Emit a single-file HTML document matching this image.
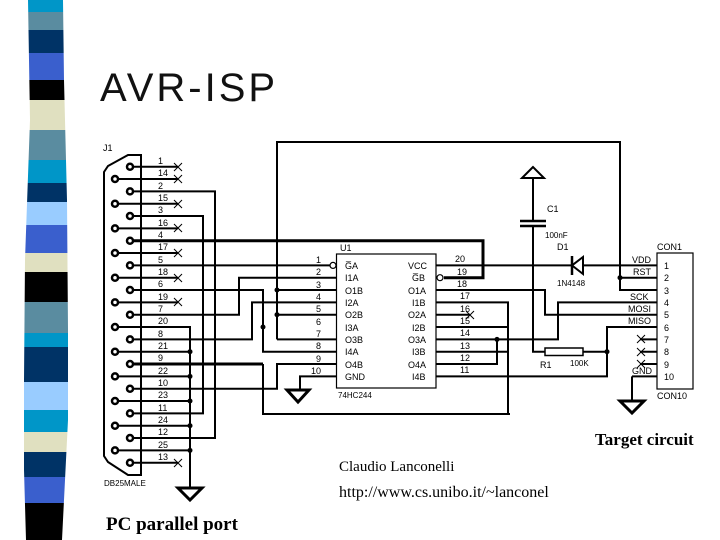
<!DOCTYPE html>
<html><head><style>
html,body{margin:0;padding:0;background:#fff;}
svg{display:block;}
text{font-family:"Liberation Sans",sans-serif;}
.s{font-family:"Liberation Serif",serif;}
</style></head><body>
<svg width="720" height="540" viewBox="0 0 720 540" xmlns="http://www.w3.org/2000/svg">
<defs><clipPath id="bar"><path d="M28,0 L63,0 L64,80 L67,200 L68,330 L68,420 L65,480 L62,540 L26,540 L24,470 L24,380 L25,260 L30,120 Z"/></clipPath></defs>
<g clip-path="url(#bar)">
<rect x="0" y="0" width="100" height="12" fill="#0096c8"/>
<rect x="0" y="12" width="100" height="18" fill="#5a8ca0"/>
<rect x="0" y="30" width="100" height="23" fill="#003366"/>
<rect x="0" y="53" width="100" height="27" fill="#3a5fcd"/>
<rect x="0" y="80" width="100" height="20" fill="#000"/>
<rect x="0" y="100" width="100" height="30" fill="#e0e0c0"/>
<rect x="0" y="130" width="100" height="30" fill="#5a8ca0"/>
<rect x="0" y="160" width="100" height="23" fill="#0096c8"/>
<rect x="0" y="183" width="100" height="19" fill="#003366"/>
<rect x="0" y="202" width="100" height="23" fill="#99ccff"/>
<rect x="0" y="225" width="100" height="28" fill="#3a5fcd"/>
<rect x="0" y="253" width="100" height="19" fill="#e0e0c0"/>
<rect x="0" y="272" width="100" height="30" fill="#000"/>
<rect x="0" y="302" width="100" height="31" fill="#5a8ca0"/>
<rect x="0" y="333" width="100" height="14" fill="#0096c8"/>
<rect x="0" y="347" width="100" height="35" fill="#003366"/>
<rect x="0" y="382" width="100" height="28" fill="#99ccff"/>
<rect x="0" y="410" width="100" height="22" fill="#0096c8"/>
<rect x="0" y="432" width="100" height="20" fill="#e0e0c0"/>
<rect x="0" y="452" width="100" height="25" fill="#003366"/>
<rect x="0" y="477" width="100" height="26" fill="#3a5fcd"/>
<rect x="0" y="503" width="100" height="37" fill="#000"/>
</g>

<text x="100" y="101" font-size="40" letter-spacing="3" fill="#111">AVR-ISP</text>

<g stroke="#000" stroke-width="2" fill="none">
<path d="M141,155 L141,475 L128,475 L108,462 L104,456 L104,172 L108,166 L128,155 Z" stroke-width="2"/>
<g stroke-width="2.5">
<circle cx="130" cy="166.7" r="3"/><circle cx="115" cy="179" r="3"/>
<circle cx="130" cy="191.4" r="3"/><circle cx="115" cy="203.7" r="3"/>
<circle cx="130" cy="216" r="3"/><circle cx="115" cy="228.4" r="3"/>
<circle cx="130" cy="240.7" r="3"/><circle cx="115" cy="253" r="3"/>
<circle cx="130" cy="265.4" r="3"/><circle cx="115" cy="277.7" r="3"/>
<circle cx="130" cy="290" r="3"/><circle cx="115" cy="302.4" r="3"/>
<circle cx="130" cy="314.7" r="3"/><circle cx="115" cy="327" r="3"/>
<circle cx="130" cy="339.4" r="3"/><circle cx="115" cy="351.7" r="3"/>
<circle cx="130" cy="364" r="3"/><circle cx="115" cy="376.4" r="3"/>
<circle cx="130" cy="388.7" r="3"/><circle cx="115" cy="401" r="3"/>
<circle cx="130" cy="413.4" r="3"/><circle cx="115" cy="425.7" r="3"/>
<circle cx="130" cy="438" r="3"/><circle cx="115" cy="450.4" r="3"/>
<circle cx="130" cy="462.7" r="3"/>
</g>
<path d="M133,166.7H178 M118,179H178 M118,203.7H178 M118,228.4H178 M118,253H178 M118,277.7H178 M118,302.4H178 M133,462.7H178"/>
<path stroke-width="1" d="M174,163l8,8M182,163l-8,8 M174,175l8,8M182,175l-8,8 M174,200l8,8M182,200l-8,8 M174,224l8,8M182,224l-8,8 M174,249l8,8M182,249l-8,8 M174,274l8,8M182,274l-8,8 M174,298l8,8M182,298l-8,8 M174,459l8,8M182,459l-8,8"/>
<path d="M133,191.4H215V438H133"/>
<path d="M133,216H203V413.4H133"/>
<path stroke-width="3" d="M133,240.7H483V277.7H444"/>
<path d="M277,339.4V142H620V290H657 M620,277.7H657 M277,290H336 M277,314.7H336 M277,339.4H336"/>
<path d="M133,265.4H330"/>
<circle cx="333" cy="265.4" r="3" stroke-width="1.2"/>
<circle cx="440" cy="277.7" r="3" stroke-width="1.2"/>
<path d="M133,290H263V351.7H336"/>
<path d="M133,314.7H239V277.7H336"/>
<path d="M133,339.4H252V302.4H336"/>
<path d="M118,327H190V487 M118,351.7H190 M118,376.4H190 M118,401H190 M118,425.7H190 M118,450.4H190"/>
<path stroke-width="3" d="M133,364H263"/>
<path d="M263,364V414H510"/>
<path d="M133,388.7H277V364H336"/>
<path d="M336,376.4H300V390"/>
<rect x="336.5" y="254" width="99.5" height="134" stroke-width="1.2"/>
<path d="M436,265.4H572 M583,265.4H657"/>
<path d="M436,290H545V314.7H657"/>
<path d="M436,302.4H508V414 M436,327H508 M436,351.7H508"/>
<path d="M436,314.7H470"/>
<path stroke-width="1" d="M466,311l8,8M474,311l-8,8"/>
<path d="M436,339.4H558V302.4H657"/>
<path d="M436,364H497V339.4"/>
<path d="M436,376.4H607V327H657"/>
<path d="M533,178V221 M533,226V351.7H545 M583,351.7H607"/>
<path d="M520,221H546 M520,226H546" stroke-width="2.5"/>
<path d="M533,167L522,178H544Z"/>
<rect x="545" y="348" width="38" height="7.5" stroke-width="1.5"/>
<path d="M583,257V274L572,265.4Z" stroke-width="2"/>
<path d="M572,256V275" stroke-width="2.5"/>
<rect x="657" y="253" width="36" height="136" stroke-width="1.2"/>
<path d="M640,339.4H657 M640,351.7H657 M640,364H657 M632,376.4H657 M632,376.4V400"/>
<path stroke-width="1" d="M637,335l8,8M645,335l-8,8 M637,348l8,8M645,348l-8,8 M637,360l8,8M645,360l-8,8"/>
<path d="M178,488H202L190,500Z" stroke-width="3"/>
<path d="M287,390H309L298,402Z" stroke-width="3"/>
<path d="M620,401H644L632,413Z" stroke-width="3"/>
</g>
<g fill="#000">
<circle cx="190" cy="351.7" r="2.5"/><circle cx="190" cy="376.4" r="2.5"/><circle cx="190" cy="401" r="2.5"/><circle cx="190" cy="425.7" r="2.5"/><circle cx="190" cy="450.4" r="2.5"/>
<circle cx="277" cy="290" r="2.5"/><circle cx="277" cy="314.7" r="2.5"/><circle cx="263" cy="327" r="2.5"/>
<circle cx="620" cy="277.7" r="2.5"/><circle cx="497" cy="339.4" r="2.5"/><circle cx="607" cy="351.7" r="2.5"/>
</g>
<g font-size="9" fill="#000">
<text x="103" y="151">J1</text>
<text x="158" y="164">1</text><text x="158" y="176">14</text><text x="158" y="189">2</text><text x="158" y="201">15</text><text x="158" y="213">3</text><text x="158" y="226">16</text><text x="158" y="238">4</text><text x="158" y="250">17</text><text x="158" y="263">5</text><text x="158" y="275">18</text><text x="158" y="287">6</text><text x="158" y="300">19</text><text x="158" y="312">7</text><text x="158" y="324">20</text><text x="158" y="337">8</text><text x="158" y="349">21</text><text x="158" y="361">9</text><text x="158" y="374">22</text><text x="158" y="386">10</text><text x="158" y="398">23</text><text x="158" y="411">11</text><text x="158" y="423">24</text><text x="158" y="435">12</text><text x="158" y="448">25</text><text x="158" y="460">13</text>
<text x="104" y="486" font-size="8">DB25MALE</text>
<text x="340" y="251">U1</text>
<text x="316" y="263">1</text><text x="316" y="275">2</text><text x="316" y="288">3</text><text x="316" y="300">4</text><text x="316" y="312">5</text><text x="316" y="325">6</text><text x="316" y="337">7</text><text x="316" y="349">8</text><text x="316" y="362">9</text><text x="311" y="374">10</text>
<text x="345" y="269">G̅A</text><text x="345" y="281">I1A</text><text x="345" y="294">O1B</text><text x="345" y="306">I2A</text><text x="345" y="318">O2B</text><text x="345" y="331">I3A</text><text x="345" y="343">O3B</text><text x="345" y="355">I4A</text><text x="345" y="368">O4B</text><text x="345" y="380">GND</text>
<text x="408" y="269">VCC</text><text x="412" y="281">G̅B</text><text x="408" y="294">O1A</text><text x="412" y="306">I1B</text><text x="408" y="318">O2A</text><text x="412" y="331">I2B</text><text x="408" y="343">O3A</text><text x="412" y="355">I3B</text><text x="408" y="368">O4A</text><text x="412" y="380">I4B</text>
<text x="455" y="262">20</text><text x="457" y="275">19</text><text x="457" y="287">18</text><text x="460" y="299">17</text><text x="460" y="312">16</text><text x="460" y="324">15</text><text x="460" y="336">14</text><text x="460" y="349">13</text><text x="460" y="361">12</text><text x="460" y="373">11</text>
<text x="338" y="398" font-size="8">74HC244</text>
<text x="547" y="212">C1</text><text x="545" y="238" font-size="8">100nF</text>
<text x="557" y="250">D1</text><text x="557" y="286" font-size="8">1N4148</text>
<text x="540" y="368">R1</text><text x="570" y="366" font-size="8">100K</text>
<text x="657" y="250">CON1</text><text x="657" y="399">CON10</text>
<text x="632" y="263">VDD</text><text x="633" y="275">RST</text><text x="630" y="300">SCK</text><text x="628" y="312">MOSI</text><text x="628" y="324">MISO</text><text x="632" y="374">GND</text>
<text x="664" y="269">1</text><text x="664" y="281">2</text><text x="664" y="294">3</text><text x="664" y="306">4</text><text x="664" y="318">5</text><text x="664" y="331">6</text><text x="664" y="343">7</text><text x="664" y="355">8</text><text x="664" y="368">9</text><text x="664" y="380">10</text>
</g>
<text class="s" x="595" y="445" font-size="17" font-weight="bold">Target circuit</text>
<text class="s" x="339" y="471" font-size="15">Claudio Lanconelli</text>
<text class="s" x="339" y="497" font-size="16">http://www.cs.unibo.it/~lanconel</text>
<text class="s" x="106" y="530" font-size="19" font-weight="bold">PC parallel port</text>
</svg>
</body></html>
